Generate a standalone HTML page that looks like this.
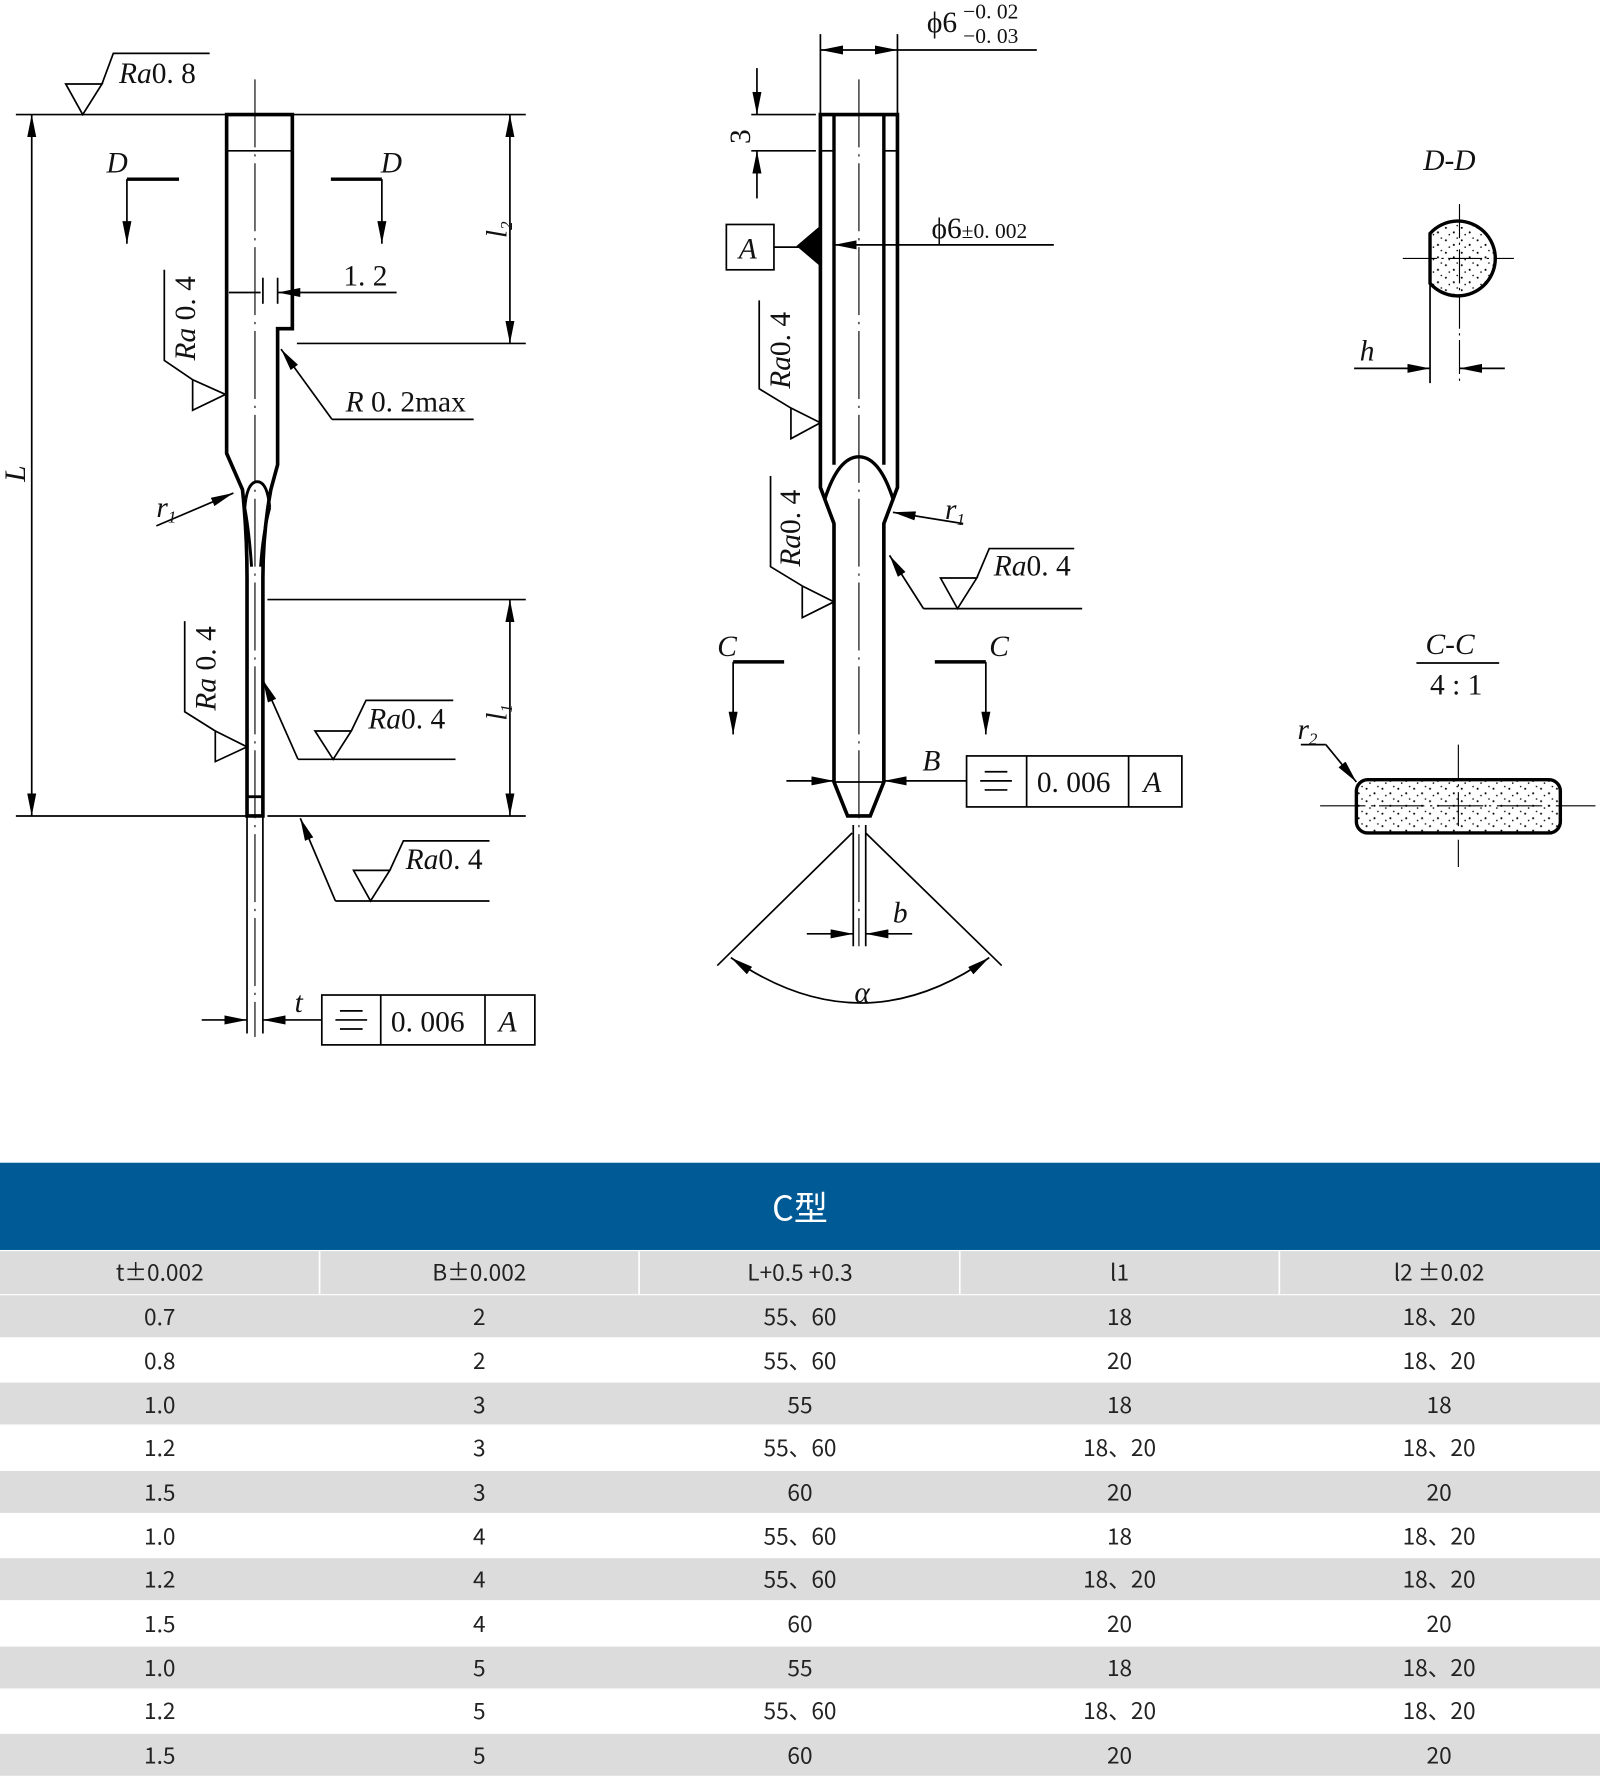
<!DOCTYPE html>
<html><head><meta charset="utf-8">
<style>
html,body{margin:0;padding:0;background:#fff;}
svg{display:block;}
.t{font-family:"Liberation Serif",serif;font-size:26px;fill:#111;}
.i{font-style:italic;}
.tb{font-family:"Noto Sans CJK SC",sans-serif;font-size:20px;fill:#222;text-anchor:middle;}
</style></head><body>
<svg width="1600" height="1777" viewBox="0 0 1412 1568" xmlns="http://www.w3.org/2000/svg">
<defs>
<marker id="a" viewBox="0 0 20 8" refX="20" refY="4" markerWidth="20" markerHeight="8" markerUnits="userSpaceOnUse" orient="auto-start-reverse"><path d="M0,0L20,4L0,8z" fill="#000"/></marker>
<pattern id="dots" width="14" height="11" patternUnits="userSpaceOnUse"><circle cx="2" cy="3" r="0.9" fill="#000"/><circle cx="9" cy="7" r="0.9" fill="#000"/><circle cx="12" cy="1" r="0.7" fill="#000"/><circle cx="5" cy="9" r="0.7" fill="#000"/></pattern>
</defs>
<g stroke="#000" fill="none" stroke-width="1.5">
<!-- LEFT VIEW -->
<line x1="14" y1="101" x2="200" y2="101"/><line x1="258" y1="101" x2="464" y2="101"/>
<line x1="14" y1="720" x2="218" y2="720"/><line x1="236" y1="720" x2="464" y2="720"/>
<path d="M58,74L90,74L73,101Z M90,74L100,47L185,47"/>
<path d="M200,101H258V290H245V410L239,432Q232,470 232,510V720H218V510Q218,470 214,432L200,400Z" stroke-width="3.2"/>
<path d="M216,448Q218,425 227,425Q236,425 238,448 M216,448Q220,470 222,500 M238,448Q232,470 230,500" stroke-width="2.6"/>
<line x1="200" y1="133" x2="258" y2="133"/>
<line x1="218" y1="703" x2="232" y2="703" stroke-width="2.5"/>
<line x1="225" y1="70" x2="225" y2="915" stroke-dasharray="60,6,2,6" stroke-width="1"/>
<line x1="218" y1="720" x2="218" y2="912"/><line x1="232" y1="720" x2="232" y2="912"/>
<line x1="112" y1="158" x2="158" y2="158" stroke-width="3"/><line x1="112" y1="158" x2="112" y2="215" marker-end="url(#a)"/>
<line x1="292" y1="158" x2="337" y2="158" stroke-width="3"/><line x1="337" y1="158" x2="337" y2="215" marker-end="url(#a)"/>
<line x1="262" y1="303" x2="464" y2="303"/>
<line x1="450" y1="101" x2="450" y2="303" marker-start="url(#a)" marker-end="url(#a)"/>
<line x1="202" y1="258" x2="230" y2="258"/><line x1="350" y1="258" x2="245" y2="258" marker-end="url(#a)"/>
<line x1="245" y1="245" x2="245" y2="268"/><line x1="232" y1="245" x2="232" y2="268"/>
<path d="M170,335L170,362L199,348Z M170,335L145,318L145,238"/>
<line x1="293" y1="370" x2="248" y2="308" marker-end="url(#a)"/><line x1="293" y1="370" x2="418" y2="370"/>
<line x1="138" y1="464" x2="206" y2="435" marker-end="url(#a)"/>
<line x1="236" y1="529" x2="464" y2="529"/>
<line x1="450" y1="529" x2="450" y2="720" marker-start="url(#a)" marker-end="url(#a)"/>
<line x1="28" y1="101" x2="28" y2="720" marker-start="url(#a)" marker-end="url(#a)"/>
<path d="M190,645L190,672L218,659Z M190,645L163,628L163,548"/>
<line x1="263" y1="670" x2="232" y2="600" marker-end="url(#a)"/><line x1="263" y1="670" x2="402" y2="670"/>
<path d="M278,645L310,645L294,670Z M310,645L323,618L400,618"/>
<line x1="296" y1="795" x2="265" y2="722" marker-end="url(#a)"/><line x1="296" y1="795" x2="432" y2="795"/>
<path d="M312,768L344,768L327,795Z M344,768L356,742L432,742"/>
<line x1="178" y1="900" x2="218" y2="900" marker-end="url(#a)"/><line x1="284" y1="900" x2="232" y2="900" marker-end="url(#a)"/>
<rect x="284" y="878" width="188" height="44"/><line x1="336" y1="878" x2="336" y2="922"/><line x1="428" y1="878" x2="428" y2="922"/>
<path d="M300,892H320M296,900H324M300,908H320"/>

<!-- MIDDLE VIEW -->
<path d="M724,101H792V430L780,462V690L768,720H748L736,690V462L724,430Z" stroke-width="3.2"/>
<path d="M736,101V410 M780,101V410" stroke-width="3"/>
<path d="M728,440Q740,403 758,403Q776,403 788,440" stroke-width="3"/>
<line x1="724" y1="133" x2="736" y2="133"/><line x1="780" y1="133" x2="792" y2="133"/>
<line x1="736" y1="690" x2="780" y2="690"/>
<line x1="758" y1="70" x2="758" y2="835" stroke-dasharray="60,6,2,6" stroke-width="1"/>
<line x1="724" y1="30" x2="724" y2="100"/><line x1="792" y1="30" x2="792" y2="100"/>
<line x1="724" y1="44" x2="792" y2="44" marker-start="url(#a)" marker-end="url(#a)"/><line x1="792" y1="44" x2="915" y2="44"/>
<line x1="663" y1="101" x2="720" y2="101"/><line x1="663" y1="133" x2="720" y2="133"/>
<line x1="668" y1="60" x2="668" y2="101" marker-end="url(#a)"/><line x1="668" y1="175" x2="668" y2="133" marker-end="url(#a)"/>
<rect x="641" y="198" width="42" height="40"/><line x1="683" y1="218" x2="705" y2="218"/>
<path d="M704,217L724,200L724,234Z" fill="#000"/>
<line x1="930" y1="216" x2="736" y2="216" marker-end="url(#a)"/>
<path d="M698,360L698,387L724,373Z M698,360L670,343L670,265"/>
<path d="M708,517L708,545L736,531Z M708,517L680,500L680,420"/>
<line x1="850" y1="462" x2="788" y2="452" marker-end="url(#a)"/>
<line x1="815" y1="537" x2="785" y2="490" marker-end="url(#a)"/><line x1="815" y1="537" x2="955" y2="537"/>
<path d="M830,510L862,510L845,537Z M862,510L873,484L948,484"/>
<line x1="647" y1="584" x2="692" y2="584" stroke-width="3"/><line x1="647" y1="584" x2="647" y2="648" marker-end="url(#a)"/>
<line x1="825" y1="584" x2="870" y2="584" stroke-width="3"/><line x1="870" y1="584" x2="870" y2="648" marker-end="url(#a)"/>
<line x1="694" y1="689" x2="736" y2="689" marker-end="url(#a)"/><line x1="853" y1="689" x2="780" y2="689" marker-end="url(#a)"/>
<rect x="853" y="667" width="190" height="45"/><line x1="906" y1="667" x2="906" y2="712"/><line x1="996" y1="667" x2="996" y2="712"/>
<path d="M869,681H889M865,689H893M869,697H889"/>
<line x1="752" y1="735" x2="633" y2="852"/><line x1="764" y1="735" x2="884" y2="852"/>
<path d="M645,845Q760,925 873,845" marker-start="url(#a)" marker-end="url(#a)"/>
<line x1="753" y1="728" x2="753" y2="835"/><line x1="764" y1="728" x2="764" y2="835"/>
<line x1="712" y1="824" x2="753" y2="824" marker-end="url(#a)"/><line x1="805" y1="824" x2="764" y2="824" marker-end="url(#a)"/>

<!-- D-D -->
<path d="M1262,206A33,33 0 1 1 1262,250Z" fill="url(#dots)" stroke-width="3"/>
<line x1="1238" y1="228" x2="1336" y2="228" stroke-dasharray="30,4,2,4" stroke-width="1"/>
<line x1="1288" y1="180" x2="1288" y2="338" stroke-dasharray="30,4,2,4" stroke-width="1"/>
<line x1="1262" y1="250" x2="1262" y2="338"/>
<line x1="1195" y1="325" x2="1262" y2="325" marker-end="url(#a)"/><line x1="1328" y1="325" x2="1288" y2="325" marker-end="url(#a)"/>
<!-- C-C -->
<line x1="1250" y1="585" x2="1323" y2="585"/>
<rect x="1197" y="688" width="180" height="47" rx="10" fill="url(#dots)" stroke-width="3"/>
<line x1="1165" y1="711" x2="1408" y2="711" stroke-dasharray="40,5,2,5" stroke-width="1"/>
<line x1="1287" y1="657" x2="1287" y2="765" stroke-dasharray="30,5,2,5" stroke-width="1"/>
<path d="M1148,657H1170"/><line x1="1170" y1="657" x2="1197" y2="690" marker-end="url(#a)"/>
</g>
<g class="t">
<text x="105" y="73"><tspan class="i">Ra</tspan>0. 8</text>
<text x="94" y="152" class="i">D</text><text x="336" y="152" class="i">D</text>
<text x="303" y="252">1. 2</text>
<text x="305" y="363"><tspan class="i">R</tspan> 0. 2max</text>
<text x="138" y="456" class="i">r<tspan font-size="15" dy="5">1</tspan></text>
<text transform="translate(447,210) rotate(-90)" class="i">l<tspan font-size="15" dy="5">2</tspan></text>
<text transform="translate(447,636) rotate(-90)" class="i">l<tspan font-size="15" dy="5">1</tspan></text>
<text transform="translate(22,425) rotate(-90)" class="i">L</text>
<text transform="translate(172,318) rotate(-90)"><tspan class="i">Ra</tspan> 0. 4</text>
<text transform="translate(190,627) rotate(-90)"><tspan class="i">Ra</tspan> 0. 4</text>
<text x="325" y="643"><tspan class="i">Ra</tspan>0. 4</text>
<text x="358" y="767"><tspan class="i">Ra</tspan>0. 4</text>
<text x="260" y="893" class="i">t</text>
<text x="345" y="910">0. 006</text><text x="440" y="910" class="i">A</text>
<text x="818" y="28">ϕ6</text><text x="850" y="16" font-size="19">−0. 02</text><text x="850" y="38" font-size="19">−0. 03</text>
<text transform="translate(662,127) rotate(-90)">3</text>
<text x="652" y="228" class="i">A</text>
<text x="822" y="210">ϕ6<tspan font-size="19">±0. 002</tspan></text>
<text transform="translate(697,343) rotate(-90)"><tspan class="i">Ra</tspan>0. 4</text>
<text transform="translate(706,500) rotate(-90)"><tspan class="i">Ra</tspan>0. 4</text>
<text x="834" y="458" class="i">r<tspan font-size="15" dy="5">1</tspan></text>
<text x="877" y="508"><tspan class="i">Ra</tspan>0. 4</text>
<text x="633" y="579" class="i">C</text><text x="873" y="579" class="i">C</text>
<text x="814" y="680" class="i">B</text>
<text x="915" y="699">0. 006</text><text x="1009" y="699" class="i">A</text>
<text x="788" y="814" class="i">b</text>
<text x="754" y="884" class="i">α</text>
<text x="1256" y="150" class="i">D-D</text>
<text x="1200" y="318" class="i">h</text>
<text x="1258" y="577" class="i">C-C</text>
<text x="1262" y="613">4 : 1</text>
<text x="1145" y="652" class="i">r<tspan font-size="15" dy="5">2</tspan></text>
</g>
<!-- TABLE -->
<rect x="0" y="1026" width="1412" height="77" fill="#005a96"/>
<text x="706" y="1077" font-family="'Noto Sans CJK SC',sans-serif" font-size="30" fill="#fff" text-anchor="middle">C型</text>
<rect x="0" y="1104" width="1412" height="38" fill="#dcdcdc"/>
<g stroke="#fff" stroke-width="1.5"><line x1="282" y1="1104" x2="282" y2="1142"/><line x1="564" y1="1104" x2="564" y2="1142"/><line x1="847" y1="1104" x2="847" y2="1142"/><line x1="1129" y1="1104" x2="1129" y2="1142"/></g>
<g fill="#dcdcdc">
<rect x="0" y="1143" width="1412" height="37"/><rect x="0" y="1220" width="1412" height="37"/><rect x="0" y="1298" width="1412" height="37"/><rect x="0" y="1375" width="1412" height="37"/><rect x="0" y="1453" width="1412" height="37"/><rect x="0" y="1530" width="1412" height="37"/>
</g>
<g class="tb">
<text x="141" y="1130">t±0.002</text><text x="423" y="1130">B±0.002</text><text x="706" y="1130">L+0.5 +0.3</text><text x="988" y="1130">l1</text><text x="1270" y="1130">l2 ±0.02</text>
<text x="141" y="1169">0.7</text><text x="423" y="1169">2</text><text x="706" y="1169">55、60</text><text x="988" y="1169">18</text><text x="1270" y="1169">18、20</text>
<text x="141" y="1208">0.8</text><text x="423" y="1208">2</text><text x="706" y="1208">55、60</text><text x="988" y="1208">20</text><text x="1270" y="1208">18、20</text>
<text x="141" y="1247">1.0</text><text x="423" y="1247">3</text><text x="706" y="1247">55</text><text x="988" y="1247">18</text><text x="1270" y="1247">18</text>
<text x="141" y="1285">1.2</text><text x="423" y="1285">3</text><text x="706" y="1285">55、60</text><text x="988" y="1285">18、20</text><text x="1270" y="1285">18、20</text>
<text x="141" y="1324">1.5</text><text x="423" y="1324">3</text><text x="706" y="1324">60</text><text x="988" y="1324">20</text><text x="1270" y="1324">20</text>
<text x="141" y="1363">1.0</text><text x="423" y="1363">4</text><text x="706" y="1363">55、60</text><text x="988" y="1363">18</text><text x="1270" y="1363">18、20</text>
<text x="141" y="1401">1.2</text><text x="423" y="1401">4</text><text x="706" y="1401">55、60</text><text x="988" y="1401">18、20</text><text x="1270" y="1401">18、20</text>
<text x="141" y="1440">1.5</text><text x="423" y="1440">4</text><text x="706" y="1440">60</text><text x="988" y="1440">20</text><text x="1270" y="1440">20</text>
<text x="141" y="1479">1.0</text><text x="423" y="1479">5</text><text x="706" y="1479">55</text><text x="988" y="1479">18</text><text x="1270" y="1479">18、20</text>
<text x="141" y="1517">1.2</text><text x="423" y="1517">5</text><text x="706" y="1517">55、60</text><text x="988" y="1517">18、20</text><text x="1270" y="1517">18、20</text>
<text x="141" y="1556">1.5</text><text x="423" y="1556">5</text><text x="706" y="1556">60</text><text x="988" y="1556">20</text><text x="1270" y="1556">20</text>
</g>
</svg>
</body></html>
